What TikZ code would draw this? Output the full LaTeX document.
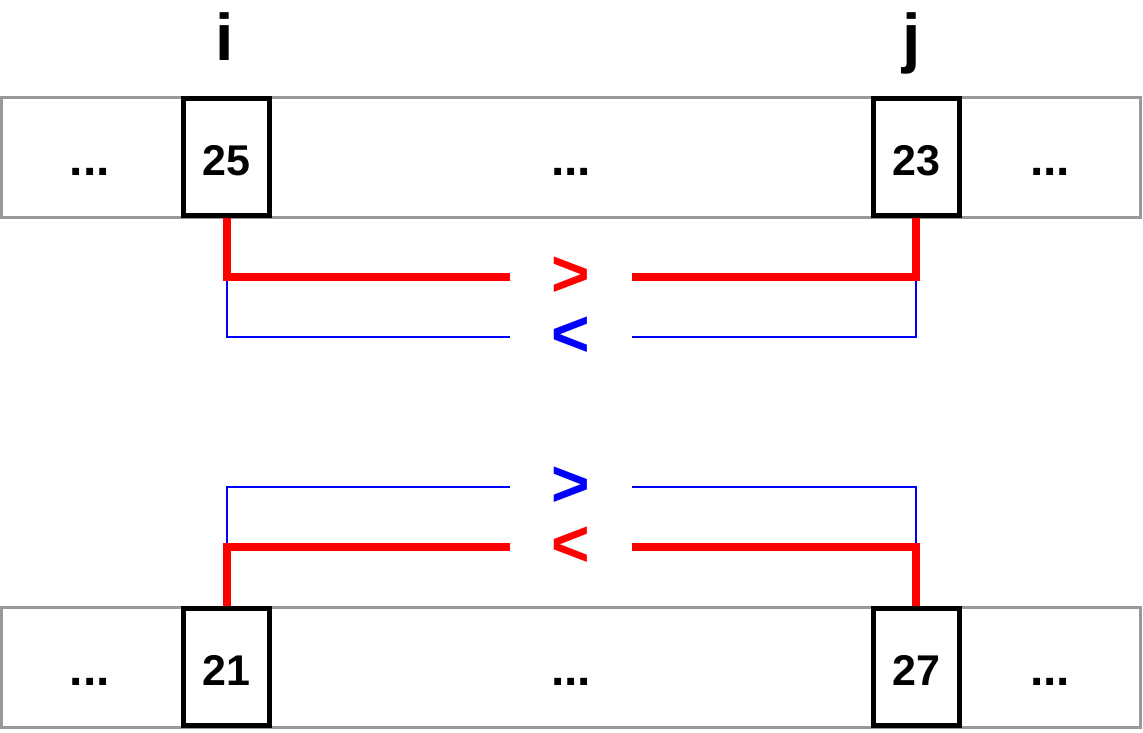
\documentclass[tikz,border=0pt]{standalone}
\usepackage{fontspec}
\setmainfont{Liberation Sans}
\usepackage{tikz}
\usetikzlibrary{positioning}
\usepackage{xcolor}
\definecolor{bargray}{RGB}{153,153,153}
\definecolor{cmpred}{RGB}{255,0,0}
\definecolor{cmpblue}{RGB}{0,0,255}

\begin{document}
\begin{tikzpicture}[x=1pt, y=-1pt,
    bar/.style={draw=bargray, line width=3pt, minimum width=1139pt, minimum height=120pt, inner sep=0pt},
    cell/.style={draw=black, line width=5pt, minimum width=86pt, minimum height=117pt, inner sep=0pt,
        text height=37pt, text depth=0pt, font=\fontsize{43}{43}\selectfont\bfseries},
    dots/.style={anchor=base, font=\fontsize{48}{48}\selectfont\bfseries},
    idx/.style={anchor=base, font=\fontsize{66}{66}\selectfont\bfseries},
    cmp/.style={minimum width=122pt, inner sep=0pt, font=\fontsize{66}{66}\selectfont\bfseries},
    redline/.style={draw=cmpred, line width=8pt, line join=miter},
    blueline/.style={draw=cmpblue, line width=2pt, line join=miter}]
    \useasboundingbox (0,0) rectangle (1143,732);

    % Top row
    \node[bar] (topbar) at (571,157) {};
    \node[cell] (a) at (226.5,157) {25};
    \node[cell] (b) at (916,157) {23};
    \node[dots] (d1) at (90,175) {...};
    \node[dots] (d2) at (571,175) {...};
    \node[dots] (d3) at (1050,175) {...};
    \node[idx] (i) at (225,60) {i};
    \node[idx] (j) at (912,60) {j};

    % Bottom row
    \node[bar] (botbar) at (571,667) {};
    \node[cell] (c) at (226.5,667) {21};
    \node[cell] (d) at (916,667) {27};
    \node[dots] (d4) at (90,685) {...};
    \node[dots] (d5) at (571,685) {...};
    \node[dots] (d6) at (1050,685) {...};

    % Comparison signs
    \node[cmp, text=cmpred] (gt1) at (571,277) {>};
    \node[cmp, text=cmpblue] (lt1) at (571,337) {<};
    \node[cmp, text=cmpblue] (gt2) at (571,487) {>};
    \node[cmp, text=cmpred] (lt2) at (571,547) {<};

    % Top connectors
    \draw[blueline] (a.south) |- (lt1.west);
    \draw[blueline] (lt1.east) -| (b.south);
    \draw[redline] (a.south) |- (gt1.west);
    \draw[redline] (gt1.east) -| (b.south);

    % Bottom connectors
    \draw[blueline] (c.north) |- (gt2.west);
    \draw[blueline] (gt2.east) -| (d.north);
    \draw[redline] (c.north) |- (lt2.west);
    \draw[redline] (lt2.east) -| (d.north);
\end{tikzpicture}
\end{document}
